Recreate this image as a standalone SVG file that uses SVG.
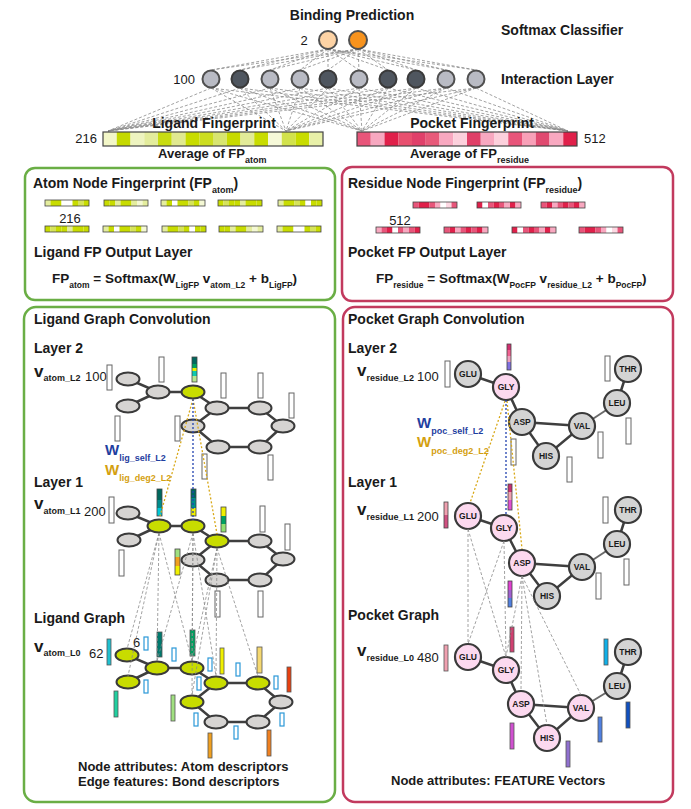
<svg xmlns="http://www.w3.org/2000/svg" width="691" height="809" viewBox="0 0 691 809">
<style>
text{font-family:"Liberation Sans",Arial,sans-serif;fill:#1a1a1a}
.h{font-size:14px;font-weight:bold}
.f{font-size:13.5px;font-weight:bold}
.h13{font-size:13px;font-weight:bold}
.sb{font-size:9px;font-weight:bold}
.sf{font-size:8.5px;font-weight:bold}
.num{font-size:13px}
.v{font-size:17px;font-weight:bold}
.w{font-size:15px;font-weight:bold}
.rl{font-size:8.5px;font-weight:bold;text-anchor:middle}
.boxg{fill:none;stroke:#6aae45;stroke-width:2.5}
.boxr{fill:none;stroke:#c23a5e;stroke-width:2.5}
.il{fill:#b9bbc4;stroke:#505050;stroke-width:2}
.id{fill:#4f565f;stroke:#3a3a3a;stroke-width:2}
.ge{fill:#d6d4d2;stroke:#3a3a3a;stroke-width:2}
.gn{fill:#c8dc00;stroke:#3a3a3a;stroke-width:2}
.pp{fill:#fcd9ef;stroke:#3a3a3a;stroke-width:2.2}
.pg{fill:#d4d4d4;stroke:#3a3a3a;stroke-width:2.2}
.edge{stroke:#3f3f3f;stroke-width:2.5;fill:none}
.dash{stroke:#8a8a8a;stroke-width:0.8;stroke-dasharray:3 2;fill:none}
.gold{stroke:#d8a818;stroke-width:1.3;stroke-dasharray:2 2;fill:none}
.blue{stroke:#2342b0;stroke-width:1.3;stroke-dasharray:2 2;fill:none}
.wb{fill:#fff;stroke:#666;stroke-width:1}
.eb{fill:#fff;stroke:#2b98d8;stroke-width:1.2}
.ol{fill:none;stroke:#444;stroke-width:0.8}
</style>
<defs>
<g id="gA"><rect x="0" width="5.5" height="6" fill="#e4ed9e"/><rect x="5.5" width="5.5" height="6" fill="#c8dc00"/><rect x="11" width="5.5" height="6" fill="#c8dc00"/><rect x="16.5" width="5.5" height="6" fill="#fff"/><rect x="22" width="5.5" height="6" fill="#fff"/><rect x="27.5" width="5.5" height="6" fill="#c8dc00"/><rect x="33" width="5.5" height="6" fill="#d6e35a"/><rect x="38.5" width="5.5" height="6" fill="#c8dc00"/><rect width="44" height="6" class="ol"/></g>
<g id="gB"><rect x="0" width="5.5" height="6" fill="#c8dc00"/><rect x="5.5" width="5.5" height="6" fill="#c8dc00"/><rect x="11" width="5.5" height="6" fill="#e4ed9e"/><rect x="16.5" width="5.5" height="6" fill="#c8dc00"/><rect x="22" width="5.5" height="6" fill="#c8dc00"/><rect x="27.5" width="5.5" height="6" fill="#e4ed9e"/><rect x="33" width="5.5" height="6" fill="#f4f8d4"/><rect x="38.5" width="5.5" height="6" fill="#e4ed9e"/><rect width="44" height="6" class="ol"/></g>
<g id="gC"><rect x="0" width="5.5" height="6" fill="#e4ed9e"/><rect x="5.5" width="5.5" height="6" fill="#c8dc00"/><rect x="11" width="5.5" height="6" fill="#fff"/><rect x="16.5" width="5.5" height="6" fill="#c8dc00"/><rect x="22" width="5.5" height="6" fill="#c8dc00"/><rect x="27.5" width="5.5" height="6" fill="#d6e35a"/><rect x="33" width="5.5" height="6" fill="#c8dc00"/><rect x="38.5" width="5.5" height="6" fill="#f4f8d4"/><rect width="44" height="6" class="ol"/></g>
<g id="gD"><rect x="0" width="5.5" height="6" fill="#c8dc00"/><rect x="5.5" width="5.5" height="6" fill="#d6e35a"/><rect x="11" width="5.5" height="6" fill="#c8dc00"/><rect x="16.5" width="5.5" height="6" fill="#c8dc00"/><rect x="22" width="5.5" height="6" fill="#e4ed9e"/><rect x="27.5" width="5.5" height="6" fill="#c8dc00"/><rect x="33" width="5.5" height="6" fill="#c8dc00"/><rect x="38.5" width="5.5" height="6" fill="#c8dc00"/><rect width="44" height="6" class="ol"/></g>
<g id="gE"><rect x="0" width="5.5" height="6" fill="#e4ed9e"/><rect x="5.5" width="5.5" height="6" fill="#c8dc00"/><rect x="11" width="5.5" height="6" fill="#c8dc00"/><rect x="16.5" width="5.5" height="6" fill="#d6e35a"/><rect x="22" width="5.5" height="6" fill="#c8dc00"/><rect x="27.5" width="5.5" height="6" fill="#fff"/><rect x="33" width="5.5" height="6" fill="#c8dc00"/><rect x="38.5" width="5.5" height="6" fill="#c8dc00"/><rect width="44" height="6" class="ol"/></g>
<g id="pA"><rect x="0" width="5.5" height="6" fill="#e8557a"/><rect x="5.5" width="5.5" height="6" fill="#e0204a"/><rect x="11" width="5.5" height="6" fill="#e0204a"/><rect x="16.5" width="5.5" height="6" fill="#e8557a"/><rect x="22" width="5.5" height="6" fill="#f8a8c0"/><rect x="27.5" width="5.5" height="6" fill="#fff"/><rect x="33" width="5.5" height="6" fill="#fcd8e2"/><rect x="38.5" width="5.5" height="6" fill="#e8557a"/><rect width="44" height="6" class="ol"/></g>
<g id="pB"><rect x="0" width="5.5" height="6" fill="#e0204a"/><rect x="5.5" width="5.5" height="6" fill="#fff"/><rect x="11" width="5.5" height="6" fill="#e8557a"/><rect x="16.5" width="5.5" height="6" fill="#e0204a"/><rect x="22" width="5.5" height="6" fill="#e8557a"/><rect x="27.5" width="5.5" height="6" fill="#f8a8c0"/><rect x="33" width="5.5" height="6" fill="#e0204a"/><rect x="38.5" width="5.5" height="6" fill="#f8a8c0"/><rect width="44" height="6" class="ol"/></g>
<g id="pC"><rect x="0" width="5.5" height="6" fill="#e8557a"/><rect x="5.5" width="5.5" height="6" fill="#e0204a"/><rect x="11" width="5.5" height="6" fill="#f8a8c0"/><rect x="16.5" width="5.5" height="6" fill="#e8557a"/><rect x="22" width="5.5" height="6" fill="#e0204a"/><rect x="27.5" width="5.5" height="6" fill="#e8557a"/><rect x="33" width="5.5" height="6" fill="#e0204a"/><rect x="38.5" width="5.5" height="6" fill="#f8a8c0"/><rect width="44" height="6" class="ol"/></g>
<g id="pD"><rect x="0" width="5.5" height="6" fill="#f8a8c0"/><rect x="5.5" width="5.5" height="6" fill="#e8557a"/><rect x="11" width="5.5" height="6" fill="#e0204a"/><rect x="16.5" width="5.5" height="6" fill="#fff"/><rect x="22" width="5.5" height="6" fill="#e8557a"/><rect x="27.5" width="5.5" height="6" fill="#f8a8c0"/><rect x="33" width="5.5" height="6" fill="#e8557a"/><rect x="38.5" width="5.5" height="6" fill="#e0204a"/><rect width="44" height="6" class="ol"/></g>
</defs>
<rect width="691" height="809" fill="#fff"/>

<!-- connectors: network and graph edges (beneath nodes) -->
<g id="connectors">
<path class="dash" d="M328 49L211 70M328 49L240 70M328 49L270 70M328 49L300 70M328 49L328 70M328 49L359 70M328 49L388 70M328 49L416 70M328 49L446 70M328 49L476 70M358 49L211 70M358 49L240 70M358 49L270 70M358 49L300 70M358 49L328 70M358 49L359 70M358 49L388 70M358 49L416 70M358 49L446 70M358 49L476 70"/>
<path class="dash" d="M211 88L108 131M211 88L286 131M211 88L362 131M211 88L568 131M240 88L108 131M240 88L286 131M240 88L362 131M240 88L568 131M270 88L108 131M270 88L286 131M270 88L362 131M270 88L568 131M300 88L108 131M300 88L286 131M300 88L362 131M300 88L568 131M328 88L108 131M328 88L286 131M328 88L362 131M328 88L568 131M359 88L108 131M359 88L286 131M359 88L362 131M359 88L568 131M388 88L108 131M388 88L286 131M388 88L362 131M388 88L568 131M416 88L108 131M416 88L286 131M416 88L362 131M416 88L568 131M446 88L108 131M446 88L286 131M446 88L362 131M446 88L568 131M476 88L108 131M476 88L286 131M476 88L362 131M476 88L568 131"/>
<g id="lig-edges" class="edge">
<path d="M128 379L158 392L193 392L217 408L260 408L283 426L260 447L218 447L193 426L217 408M128 406L158 392"/>
<path d="M128 513L159 526L193 526L217 541L260 541L283 559L260 580L217 580L193 560L217 541M129 540L159 526"/>
<path d="M127 655L157 668L192 668L216 683L258 683L281 702L258 722L216 722L192 702L216 683M128 682L157 668"/>
</g>
<g id="poc-edges" class="edge">
<path d="M468 374L506 387L522 422L582 426L546 456L522 422M617 403L628 369"/>
<path d="M582 426L617 403" style="stroke:#6a6a6a;stroke-width:2"/>
<path d="M468 516L504 528L522 563L582 567L547 596L522 563M617 544L628 510"/>
<path d="M582 567L617 544" style="stroke:#6a6a6a;stroke-width:2"/>
<path d="M468 657L506 670L521 704L581 708L547 738L521 704M617 686L628 652"/>
<path d="M581 708L617 686" style="stroke:#6a6a6a;stroke-width:2"/>
</g>
</g>

<!-- top section -->
<g id="title"><text x="352" y="20" class="h" text-anchor="middle">Binding Prediction</text></g>
<g id="softmax-label"><text x="501" y="35" class="h">Softmax Classifier</text></g>
<g id="interaction-label"><text x="501" y="84" class="h">Interaction Layer</text></g>
<g id="output-layer">
<text x="304" y="45" class="num" text-anchor="middle">2</text>
<circle id="out1" cx="328" cy="40" r="9" fill="#fdd3a5" stroke="#505050" stroke-width="2"/>
<circle id="out2" cx="358" cy="40" r="9" fill="#f7931e" stroke="#505050" stroke-width="2"/>
</g>
<g id="interaction-layer">
<text x="195" y="84" class="num" text-anchor="end">100</text>
<circle id="int1" cx="211" cy="79" r="8.5" class="il"/>
<circle id="int2" cx="240" cy="79" r="8.5" class="id"/>
<circle id="int3" cx="270" cy="79" r="8.5" class="il"/>
<circle id="int4" cx="300" cy="79" r="8.5" class="il"/>
<circle id="int5" cx="328" cy="79" r="8.5" class="id"/>
<circle id="int6" cx="359" cy="79" r="8.5" class="il"/>
<circle id="int7" cx="388" cy="79" r="8.5" class="id"/>
<circle id="int8" cx="416" cy="79" r="8.5" class="id"/>
<circle id="int9" cx="446" cy="79" r="8.5" class="il"/>
<circle id="int10" cx="476" cy="79" r="8.5" class="il"/>
</g>
<g id="ligand-fp">
<text x="214" y="128" class="h" text-anchor="middle">Ligand Fingerprint</text>
<text x="97" y="143" class="num" text-anchor="end">216</text>
<rect x="103" y="132" width="13.75" height="14" fill="#f3f7c8"/>
<rect x="116.75" y="132" width="13.75" height="14" fill="#c5d900"/>
<rect x="130.5" y="132" width="13.75" height="14" fill="#eef4c0"/>
<rect x="144.25" y="132" width="13.75" height="14" fill="#e3ec9c"/>
<rect x="158" y="132" width="13.75" height="14" fill="#c8dc12"/>
<rect x="171.75" y="132" width="13.75" height="14" fill="#e0e990"/>
<rect x="185.5" y="132" width="13.75" height="14" fill="#c8dc00"/>
<rect x="199.25" y="132" width="13.75" height="14" fill="#ccdd20"/>
<rect x="213" y="132" width="13.75" height="14" fill="#d8e570"/>
<rect x="226.75" y="132" width="13.75" height="14" fill="#c8da00"/>
<rect x="240.5" y="132" width="13.75" height="14" fill="#e2eb98"/>
<rect x="254.25" y="132" width="13.75" height="14" fill="#c8dc00"/>
<rect x="268" y="132" width="13.75" height="14" fill="#f6f9d8"/>
<rect x="281.75" y="132" width="13.75" height="14" fill="#d2e24c"/>
<rect x="295.5" y="132" width="13.75" height="14" fill="#c8dc00"/>
<rect x="309.25" y="132" width="13.75" height="14" fill="#e8f0a8"/>
<rect x="103" y="132" width="220" height="14" fill="none" stroke="#444" stroke-width="1.2"/>
<text x="158" y="158" class="h13">Average of FP<tspan class="sb" dy="5">atom</tspan></text>
</g>
<g id="pocket-fp">
<text x="472" y="128" class="h" text-anchor="middle">Pocket Fingerprint</text>
<text x="584" y="143" class="num">512</text>
<rect x="357" y="132" width="13.75" height="14" fill="#e8557a"/>
<rect x="370.75" y="132" width="13.75" height="14" fill="#f7a8c0"/>
<rect x="384.5" y="132" width="13.75" height="14" fill="#e0204a"/>
<rect x="398.25" y="132" width="13.75" height="14" fill="#e8506f"/>
<rect x="412" y="132" width="13.75" height="14" fill="#e0406a"/>
<rect x="425.75" y="132" width="13.75" height="14" fill="#e85a7a"/>
<rect x="439.5" y="132" width="13.75" height="14" fill="#f8a8c0"/>
<rect x="453.25" y="132" width="13.75" height="14" fill="#fcd0dc"/>
<rect x="467" y="132" width="13.75" height="14" fill="#e04068"/>
<rect x="480.75" y="132" width="13.75" height="14" fill="#f8a8c0"/>
<rect x="494.5" y="132" width="13.75" height="14" fill="#fcd0dc"/>
<rect x="508.25" y="132" width="13.75" height="14" fill="#e8557a"/>
<rect x="522" y="132" width="13.75" height="14" fill="#f8a0b8"/>
<rect x="535.75" y="132" width="13.75" height="14" fill="#e04a70"/>
<rect x="549.5" y="132" width="13.75" height="14" fill="#f8a8c0"/>
<rect x="563.25" y="132" width="13.75" height="14" fill="#e0204a"/>
<rect x="357" y="132" width="220" height="14" fill="none" stroke="#444" stroke-width="1.2"/>
<text x="410" y="158" class="h13">Average of FP<tspan class="sb" dy="5">residue</tspan></text>
</g>

<!-- ligand FP output box -->
<g id="ligand-fp-output">
<rect x="25" y="168" width="310" height="132" rx="10" class="boxg"/>
<text x="33" y="188" class="h">Atom Node Fingerprint (FP<tspan class="sb" dy="5">atom</tspan><tspan dy="-5">)</tspan></text>
<use href="#gA" x="45" y="200"/><use href="#gB" x="104" y="200"/><use href="#gC" x="161" y="200"/><use href="#gD" x="218" y="200"/><use href="#gE" x="278" y="200"/>
<text x="70" y="223" class="num" text-anchor="middle">216</text>
<use href="#gD" x="45" y="226"/><use href="#gC" x="103" y="226"/><use href="#gE" x="162" y="226"/><use href="#gB" x="219" y="226"/><use href="#gA" x="277" y="226"/>
<text x="34" y="257" class="h">Ligand FP Output Layer</text>
<text x="52" y="283" class="f">FP<tspan class="sf" dy="5">atom</tspan><tspan dy="-5"> = Softmax(W</tspan><tspan class="sf" dy="5">LigFP</tspan><tspan dy="-5"> v</tspan><tspan class="sf" dy="5">atom_L2</tspan><tspan dy="-5"> + b</tspan><tspan class="sf" dy="5">LigFP</tspan><tspan dy="-5">)</tspan></text>
</g>

<!-- pocket FP output box -->
<g id="pocket-fp-output">
<rect x="342" y="167" width="331" height="134" rx="10" class="boxr"/>
<text x="348" y="188" class="h">Residue Node Fingerprint (FP<tspan class="sb" dy="5">residue</tspan><tspan dy="-5">)</tspan></text>
<use href="#pA" x="413" y="202"/><use href="#pB" x="477" y="202"/><use href="#pC" x="541" y="202"/>
<text x="400" y="225" class="num" text-anchor="middle">512</text>
<use href="#pD" x="376" y="227"/><use href="#pC" x="444" y="227"/><use href="#pB" x="512" y="227"/><use href="#pA" x="579" y="227"/>
<text x="348" y="257" class="h">Pocket FP Output Layer</text>
<text x="376" y="283" class="f">FP<tspan class="sf" dy="5">residue</tspan><tspan dy="-5"> = Softmax(W</tspan><tspan class="sf" dy="5">PocFP</tspan><tspan dy="-5"> v</tspan><tspan class="sf" dy="5">residue_L2</tspan><tspan dy="-5"> + b</tspan><tspan class="sf" dy="5">PocFP</tspan><tspan dy="-5">)</tspan></text>
</g>

<!-- ligand graph convolution panel -->
<g id="ligand-panel">
<rect x="24" y="307" width="311" height="495" rx="12" class="boxg"/>
<text x="34" y="324" class="h">Ligand Graph Convolution</text>
<text x="34" y="353" class="h">Layer 2</text>
<text x="34" y="377" class="v">v<tspan class="sb" dy="4">atom_L2</tspan></text>
<text x="85" y="381" class="num">100</text>
<text x="34" y="487" class="h">Layer 1</text>
<text x="34" y="509" class="v">v<tspan class="sb" dy="5">atom_L1</tspan></text>
<text x="84" y="516" class="num">200</text>
<text x="34" y="623" class="h">Ligand Graph</text>
<text x="34" y="652" class="v">v<tspan class="sb" dy="4">atom_L0</tspan></text>
<text x="89" y="658" class="num">62</text>
<text x="133" y="647" class="num">6</text>
<text x="105" y="455" class="w" style="fill:#1f40a0">W<tspan class="sb" dy="6" style="fill:#1f40a0">lig_self_L2</tspan></text>
<text x="105" y="475" class="w" style="fill:#d4a010">W<tspan class="sb" dy="6" style="fill:#d4a010">lig_deg2_L2</tspan></text>
<text x="78" y="771" class="h13">Node attributes: Atom descriptors</text>
<text x="78" y="786" class="h13">Edge features: Bond descriptors</text>
</g>

<!-- ligand layer 2 -->
<g id="lig-l2-bars">
<rect x="107" y="365" width="5" height="25" class="wb"/>
<rect x="159" y="357" width="5" height="25" class="wb"/>
<rect x="221" y="373" width="5" height="25" class="wb"/>
<rect x="258" y="373" width="5" height="25" class="wb"/>
<rect x="289" y="393" width="5" height="25" class="wb"/>
<rect x="115" y="416" width="5" height="25" class="wb"/>
<rect x="175" y="416" width="5" height="25" class="wb"/>
<rect x="202" y="454" width="5" height="25" class="wb"/>
<rect x="268" y="455" width="5" height="25" class="wb"/>
<rect x="192" y="357" width="5" height="7" fill="#00685e"/><rect x="192" y="364" width="5" height="4" fill="#00a060"/><rect x="192" y="368" width="5" height="3" fill="#e8f000"/><rect x="192" y="371" width="5" height="5" fill="#10c8b0"/><rect x="192" y="376" width="5" height="6" fill="#b8e890"/><rect x="192" y="357" width="5" height="25" class="ol"/>
</g>
<g id="lig-l2-A"><ellipse cx="128" cy="379" rx="11.5" ry="6.5" class="ge"/></g>
<g id="lig-l2-B"><ellipse cx="158" cy="392" rx="11.5" ry="6.5" class="ge"/></g>
<g id="lig-l2-C"><ellipse cx="193" cy="392" rx="11.5" ry="6.5" class="gn"/></g>
<g id="lig-l2-D"><ellipse cx="128" cy="406" rx="11.5" ry="6.5" class="ge"/></g>
<g id="lig-l2-E"><ellipse cx="217" cy="408" rx="11.5" ry="6.5" class="ge"/></g>
<g id="lig-l2-F"><ellipse cx="193" cy="426" rx="11.5" ry="6.5" class="ge"/></g>
<g id="lig-l2-G"><ellipse cx="260" cy="408" rx="11.5" ry="6.5" class="ge"/></g>
<g id="lig-l2-H"><ellipse cx="283" cy="426" rx="11.5" ry="6.5" class="ge"/></g>
<g id="lig-l2-I"><ellipse cx="218" cy="447" rx="11.5" ry="6.5" class="ge"/></g>
<g id="lig-l2-J"><ellipse cx="260" cy="447" rx="11.5" ry="6.5" class="ge"/></g>

<!-- ligand layer 1 -->
<g id="lig-l1-bars">
<rect x="109" y="497" width="5" height="26" class="wb"/>
<rect x="260" y="506" width="5" height="26" class="wb"/>
<rect x="285" y="524" width="5" height="26" class="wb"/>
<rect x="119" y="550" width="5" height="26" class="wb"/>
<rect x="215" y="591" width="5" height="26" class="wb"/>
<rect x="258" y="591" width="5" height="26" class="wb"/>
<rect x="157" y="489" width="5" height="11" fill="#00685e"/><rect x="157" y="500" width="5" height="8" fill="#008c8c"/><rect x="157" y="508" width="5" height="8" fill="#00c8d8"/><rect x="157" y="489" width="5" height="27" class="ol"/>
<rect x="191" y="489" width="5" height="9" fill="#00685e"/><rect x="191" y="498" width="5" height="10" fill="#00908a"/><rect x="191" y="508" width="5" height="8" fill="#f0f000"/><rect x="191" y="489" width="5" height="27" class="ol"/>
<rect x="221" y="507" width="5" height="9" fill="#f0f000"/><rect x="221" y="516" width="5" height="8" fill="#00a060"/><rect x="221" y="524" width="5" height="8" fill="#90e070"/><rect x="221" y="507" width="5" height="25" class="ol"/>
<rect x="175" y="549" width="5" height="8" fill="#a0e080"/><rect x="175" y="557" width="5" height="9" fill="#f0a020"/><rect x="175" y="566" width="5" height="9" fill="#f0f000"/><rect x="175" y="549" width="5" height="26" class="ol"/>
</g>
<g id="lig-l1-A"><ellipse cx="128" cy="513" rx="11.5" ry="6.5" class="ge"/></g>
<g id="lig-l1-B"><ellipse cx="159" cy="526" rx="11.5" ry="6.5" class="gn"/></g>
<g id="lig-l1-C"><ellipse cx="193" cy="526" rx="11.5" ry="6.5" class="gn"/></g>
<g id="lig-l1-D"><ellipse cx="129" cy="540" rx="11.5" ry="6.5" class="ge"/></g>
<g id="lig-l1-E"><ellipse cx="217" cy="541" rx="11.5" ry="6.5" class="gn"/></g>
<g id="lig-l1-F"><ellipse cx="193" cy="560" rx="11.5" ry="6.5" class="ge"/></g>
<g id="lig-l1-G"><ellipse cx="260" cy="541" rx="11.5" ry="6.5" class="ge"/></g>
<g id="lig-l1-H"><ellipse cx="283" cy="559" rx="11.5" ry="6.5" class="ge"/></g>
<g id="lig-l1-I"><ellipse cx="217" cy="580" rx="11.5" ry="6.5" class="ge"/></g>
<g id="lig-l1-J"><ellipse cx="260" cy="580" rx="11.5" ry="6.5" class="ge"/></g>

<!-- ligand graph layer 0 -->
<g id="lig-l0-bars">
<rect x="107" y="639" width="4" height="26" fill="#20c0d0" stroke="#555" stroke-width="0.8"/>
<rect x="157" y="632" width="5" height="25" fill="#007a6e" stroke="#555" stroke-width="0.8"/>
<rect x="190" y="630" width="5" height="26" fill="#00a060" stroke="#555" stroke-width="0.8"/>
<rect x="220" y="648" width="4" height="26" fill="#f0f000" stroke="#555" stroke-width="0.8"/>
<rect x="257" y="647" width="5" height="26" fill="#f5d870" stroke="#555" stroke-width="0.8"/>
<rect x="287" y="667" width="4" height="25" fill="#e84010" stroke="#555" stroke-width="0.8"/>
<rect x="114" y="691" width="4" height="26" fill="#20d0a0" stroke="#555" stroke-width="0.8"/>
<rect x="171" y="695" width="4" height="26" fill="#a0e080" stroke="#555" stroke-width="0.8"/>
<rect x="208" y="733" width="4" height="25" fill="#f0a020" stroke="#555" stroke-width="0.8"/>
<rect x="267" y="730" width="4" height="26" fill="#f08020" stroke="#555" stroke-width="0.8"/>
<rect x="144" y="637" width="4" height="13" class="eb"/>
<rect x="172" y="648" width="4" height="13" class="eb"/>
<rect x="208" y="658" width="4" height="13" class="eb"/>
<rect x="236" y="663" width="4" height="13" class="eb"/>
<rect x="144" y="680" width="4" height="13" class="eb"/>
<rect x="197" y="677" width="4" height="13" class="eb"/>
<rect x="274" y="676" width="4" height="13" class="eb"/>
<rect x="194" y="713" width="4" height="13" class="eb"/>
<rect x="234" y="726" width="4" height="13" class="eb"/>
<rect x="280" y="713" width="4" height="13" class="eb"/>
</g>
<g id="lig-l0-A"><ellipse cx="127" cy="655" rx="11.5" ry="6.5" class="gn"/></g>
<g id="lig-l0-B"><ellipse cx="157" cy="668" rx="11.5" ry="6.5" class="gn"/></g>
<g id="lig-l0-C"><ellipse cx="192" cy="668" rx="11.5" ry="6.5" class="gn"/></g>
<g id="lig-l0-D"><ellipse cx="128" cy="682" rx="11.5" ry="6.5" class="gn"/></g>
<g id="lig-l0-E"><ellipse cx="216" cy="683" rx="11.5" ry="6.5" class="gn"/></g>
<g id="lig-l0-F"><ellipse cx="192" cy="702" rx="11.5" ry="6.5" class="gn"/></g>
<g id="lig-l0-G"><ellipse cx="258" cy="683" rx="11.5" ry="6.5" class="gn"/></g>
<g id="lig-l0-H"><ellipse cx="281" cy="702" rx="11.5" ry="6.5" class="ge"/></g>
<g id="lig-l0-I"><ellipse cx="216" cy="722" rx="11.5" ry="6.5" class="ge"/></g>
<g id="lig-l0-J"><ellipse cx="258" cy="722" rx="11.5" ry="6.5" class="ge"/></g>

<!-- pocket graph convolution panel -->
<g id="pocket-panel">
<rect x="343" y="307" width="330" height="495" rx="12" class="boxr"/>
<text x="348" y="324" class="h">Pocket Graph Convolution</text>
<text x="348" y="353" class="h">Layer 2</text>
<text x="357" y="376" class="v">v<tspan class="sb" dy="5">residue_L2</tspan></text>
<text x="417" y="381" class="num">100</text>
<text x="348" y="487" class="h">Layer 1</text>
<text x="357" y="515" class="v">v<tspan class="sb" dy="5">residue_L1</tspan></text>
<text x="417" y="521" class="num">200</text>
<text x="348" y="620" class="h">Pocket Graph</text>
<text x="357" y="656" class="v">v<tspan class="sb" dy="5">residue_L0</tspan></text>
<text x="417" y="662" class="num">480</text>
<text x="417" y="428" class="w" style="fill:#1f40a0">W<tspan class="sb" dy="6" style="fill:#1f40a0">poc_self_L2</tspan></text>
<text x="417" y="447" class="w" style="fill:#d4a010">W<tspan class="sb" dy="7" style="fill:#d4a010">poc_deg2_L2</tspan></text>
<text x="391" y="785" class="h13">Node attributes: FEATURE Vectors</text>
</g>
<g id="poc-bars">
<rect x="445" y="361" width="5" height="26" class="wb"/>
<rect x="605" y="356" width="5" height="25" class="wb"/>
<rect x="626" y="418" width="5" height="26" class="wb"/>
<rect x="598" y="432" width="5" height="26" class="wb"/>
<rect x="511" y="439" width="5" height="26" class="wb"/>
<rect x="567" y="457" width="5" height="25" class="wb"/>
<rect x="507" y="344" width="4" height="6" fill="#d03070"/><rect x="507" y="350" width="4" height="6" fill="#f06090"/><rect x="507" y="356" width="4" height="6" fill="#f0a0c0"/><rect x="507" y="362" width="4" height="8" fill="#8070e0"/><rect x="507" y="344" width="4" height="26" class="ol"/>
<rect x="444" y="502" width="4" height="13" fill="#f0a0b0"/><rect x="444" y="515" width="4" height="13" fill="#d05080"/><rect x="444" y="502" width="4" height="26" class="ol"/>
<rect x="508" y="484" width="4" height="8" fill="#c83070"/><rect x="508" y="492" width="4" height="8" fill="#f0a0b0"/><rect x="508" y="500" width="4" height="10" fill="#e050d0"/><rect x="508" y="484" width="4" height="26" class="ol"/>
<rect x="603" y="497" width="5" height="26" class="wb"/>
<rect x="624" y="559" width="5" height="26" class="wb"/>
<rect x="596" y="573" width="5" height="26" class="wb"/>
<rect x="508" y="581" width="4" height="9" fill="#e040d0"/><rect x="508" y="590" width="4" height="8" fill="#a060d0"/><rect x="508" y="598" width="4" height="9" fill="#5080e0"/><rect x="508" y="581" width="4" height="26" class="ol"/>
<rect x="444" y="645" width="4" height="26" fill="#f0a0b0" stroke="#555" stroke-width="0.8"/>
<rect x="510" y="627" width="4" height="25" fill="#d04070" stroke="#555" stroke-width="0.8"/>
<rect x="604" y="639" width="4" height="26" fill="#10b0e8" stroke="#555" stroke-width="0.8"/>
<rect x="626" y="702" width="4" height="26" fill="#1050c0" stroke="#555" stroke-width="0.8"/>
<rect x="598" y="717" width="4" height="25" fill="#5080e0" stroke="#555" stroke-width="0.8"/>
<rect x="510" y="723" width="4" height="26" fill="#d050d0" stroke="#555" stroke-width="0.8"/>
<rect x="566" y="741" width="4" height="26" fill="#9070d0" stroke="#555" stroke-width="0.8"/>
</g>
<g id="poc-l2-glu"><circle cx="468" cy="374" r="13" class="pg"/><text x="468" y="377" class="rl">GLU</text></g>
<g id="poc-l2-gly"><circle cx="506" cy="387" r="13" class="pp"/><text x="506" y="390" class="rl">GLY</text></g>
<g id="poc-l2-asp"><circle cx="522" cy="422" r="13" class="pg"/><text x="522" y="425" class="rl">ASP</text></g>
<g id="poc-l2-val"><circle cx="582" cy="426" r="13" class="pg"/><text x="582" y="429" class="rl">VAL</text></g>
<g id="poc-l2-his"><circle cx="546" cy="456" r="13" class="pg"/><text x="546" y="459" class="rl">HIS</text></g>
<g id="poc-l2-leu"><circle cx="617" cy="403" r="13" class="pg"/><text x="617" y="406" class="rl">LEU</text></g>
<g id="poc-l2-thr"><circle cx="628" cy="369" r="13" class="pg"/><text x="628" y="372" class="rl">THR</text></g>
<g id="poc-l1-glu"><circle cx="468" cy="516" r="13" class="pp"/><text x="468" y="519" class="rl">GLU</text></g>
<g id="poc-l1-gly"><circle cx="504" cy="528" r="13" class="pp"/><text x="504" y="531" class="rl">GLY</text></g>
<g id="poc-l1-asp"><circle cx="522" cy="563" r="13" class="pp"/><text x="522" y="566" class="rl">ASP</text></g>
<g id="poc-l1-val"><circle cx="582" cy="567" r="13" class="pg"/><text x="582" y="570" class="rl">VAL</text></g>
<g id="poc-l1-his"><circle cx="547" cy="596" r="13" class="pg"/><text x="547" y="599" class="rl">HIS</text></g>
<g id="poc-l1-leu"><circle cx="617" cy="544" r="13" class="pg"/><text x="617" y="547" class="rl">LEU</text></g>
<g id="poc-l1-thr"><circle cx="628" cy="510" r="13" class="pg"/><text x="628" y="513" class="rl">THR</text></g>
<g id="poc-l0-glu"><circle cx="468" cy="657" r="13" class="pp"/><text x="468" y="660" class="rl">GLU</text></g>
<g id="poc-l0-gly"><circle cx="506" cy="670" r="13" class="pp"/><text x="506" y="673" class="rl">GLY</text></g>
<g id="poc-l0-asp"><circle cx="521" cy="704" r="13" class="pp"/><text x="521" y="707" class="rl">ASP</text></g>
<g id="poc-l0-val"><circle cx="581" cy="708" r="13" class="pp"/><text x="581" y="711" class="rl">VAL</text></g>
<g id="poc-l0-his"><circle cx="547" cy="738" r="13" class="pp"/><text x="547" y="741" class="rl">HIS</text></g>
<g id="poc-l0-leu"><circle cx="617" cy="686" r="13" class="pg"/><text x="617" y="689" class="rl">LEU</text></g>
<g id="poc-l0-thr"><circle cx="628" cy="652" r="13" class="pg"/><text x="628" y="655" class="rl">THR</text></g>

<!-- inter-layer connectors (drawn over nodes) -->
<g id="layer-links">
<path class="gold" d="M193 399L160 516M193 399L217 534"/>
<path class="blue" d="M193 399L193 520"/>
<path class="gold" d="M505 401L470 503M507 401L522 549"/>
<path class="blue" d="M506 400L506 514"/>
<path class="dash" d="M159 533L127 649M159 533L128 676M159 533L157 661M159 533L192 661M193 533L157 661M193 533L192 661M193 533L216 676M193 533L192 695M217 548L192 661M217 548L216 676M217 548L192 695M217 548L258 676"/>
<path class="dash" d="M468 529L468 644M468 529L506 657M504 541L468 644M504 541L506 657M522 576L506 657M522 576L521 691M522 576L547 725M522 576L581 695"/>
</g>
</svg>
